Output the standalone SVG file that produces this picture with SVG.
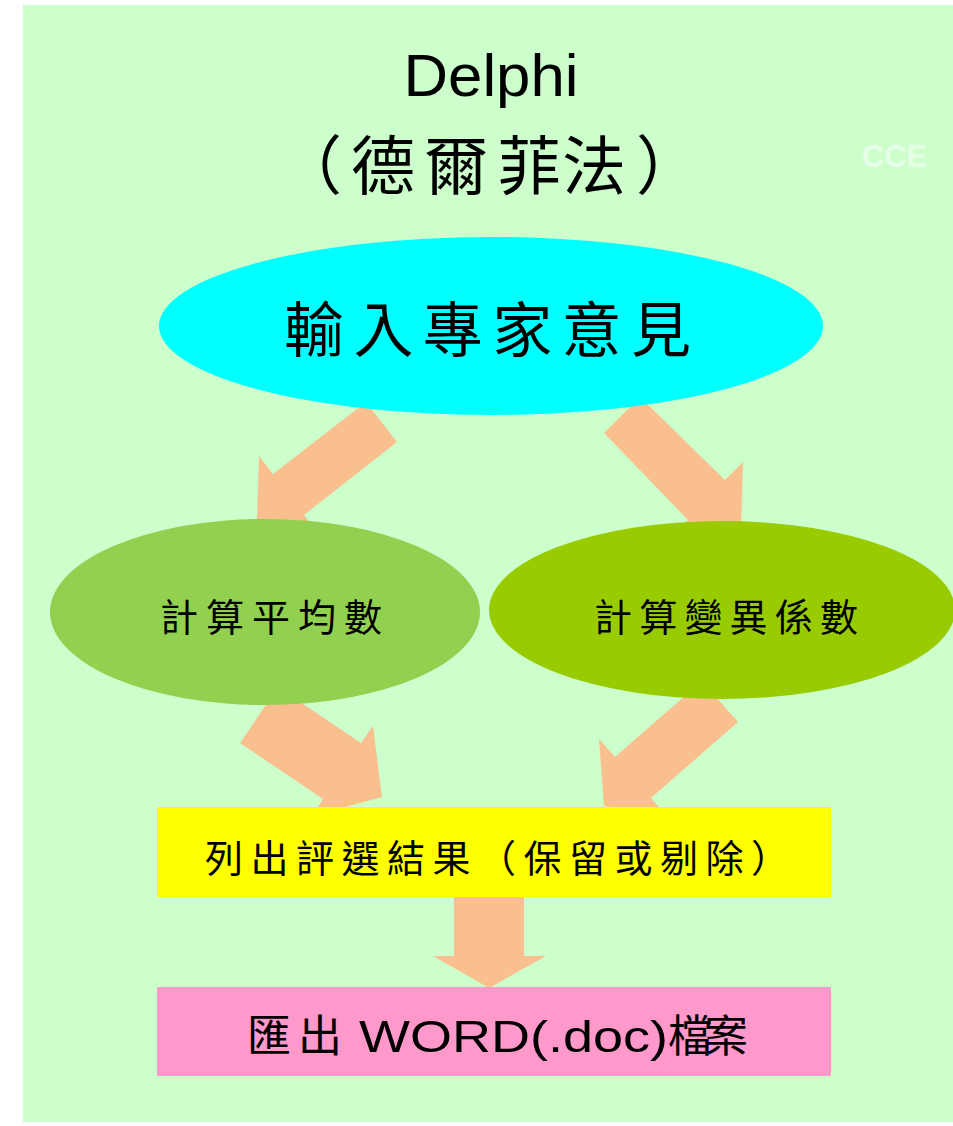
<svg xmlns="http://www.w3.org/2000/svg" width="953" height="1126" viewBox="0 0 953 1126">
<style>
.cjk{font-family:"Noto Sans CJK TC","Noto Sans CJK SC",sans-serif;fill:#000;text-anchor:middle}
.lat{font-family:"Liberation Sans",Arial,sans-serif;fill:#000}
.arrow{fill:#FABF8F;stroke:none}
</style>
<rect x="0" y="0" width="953" height="1126" fill="#FFFFFF"/>
<rect x="23" y="5" width="930" height="1117" fill="#CCFFCC"/>
<text class="lat" x="491" y="96" font-size="60" text-anchor="middle" textLength="175" lengthAdjust="spacingAndGlyphs">Delphi</text>
<text class="cjk" font-size="64" x="310 383 456 529 594 668" y="189">（德爾菲法）</text>
<text x="862" y="167" font-family="Liberation Sans,Arial,sans-serif" font-weight="bold" font-size="32" fill="#E6FFE6" textLength="65" lengthAdjust="spacingAndGlyphs">CCE</text>
<g id="connectors">
<polygon class="arrow" points="366,402 397,442 304,515 318,533 257,519 259,456 273,474"/>
<polygon class="arrow" points="640,397 604,433 688,520 674,536 741,529 743,462 725,480"/>
<polygon class="arrow" points="240,743 278,687 361,743 373,726 382,797 312,816 323,799"/>
<polygon class="arrow" points="738,722 702,681 615,757 599,739 604,806 667,816 651,798"/>
<polygon class="arrow" points="454,890 524,890 524,956 546,956 489,988 433,956 454,956"/>
</g>
<g id="node-input">
<ellipse cx="491" cy="326" rx="332" ry="89" fill="#00FFFF"/>
<text class="cjk" font-size="60" x="314 383.4 452.8 522.2 591.6 661" y="352">輸入專家意見</text>
</g>
<g id="node-mean">
<ellipse cx="265" cy="612" rx="215" ry="93" fill="#92D050"/>
<text class="cjk" font-size="38" x="179 225 271 317 363" y="631">計算平均數</text>
</g>
<g id="node-cv">
<ellipse cx="722" cy="610" rx="233" ry="89" fill="#99CC00"/>
<text class="cjk" font-size="38" x="613 658.2 703.4 748.6 793.8 839" y="631">計算變異係數</text>
</g>
<g id="node-result">
<rect x="157" y="807" width="674" height="90" fill="#FFFF00"/>
<text class="cjk" font-size="38" x="224 269.5 315 360.5 406 451.5 497 542.5 588 633.5 679 724.5 770" y="872">列出評選結果（保留或剔除）</text>
</g>
<g id="node-export">
<rect x="157" y="987" width="674" height="89" fill="#FF99CC"/>
<text y="1052" font-size="44"><tspan class="cjk" x="269 320">匯出</tspan><tspan class="lat" x="344" textLength="324" lengthAdjust="spacingAndGlyphs"> WORD(.doc)</tspan><tspan class="cjk" x="690 726">檔案</tspan></text>
</g>
</svg>
